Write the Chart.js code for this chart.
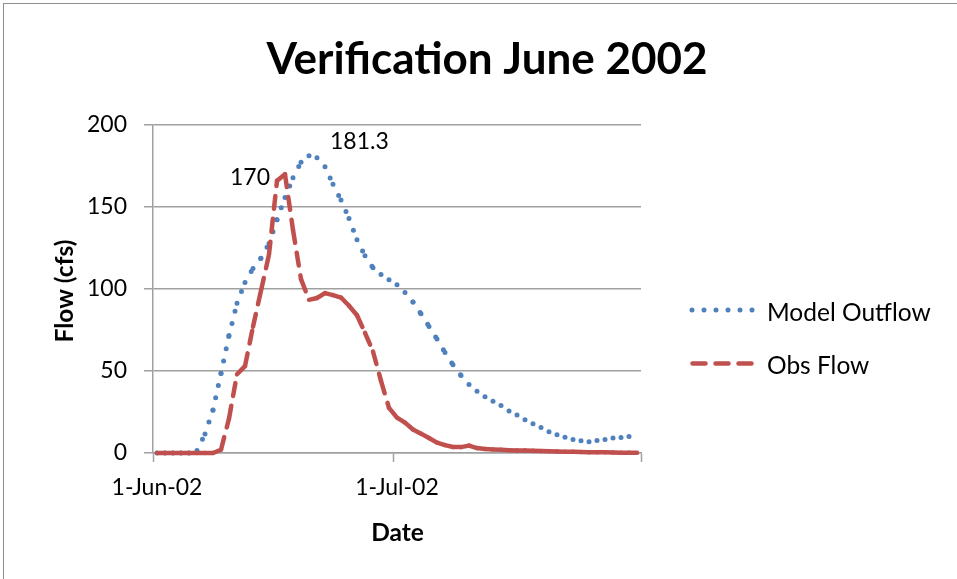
<!DOCTYPE html>
<html>
<head>
<meta charset="utf-8">
<script src="https://cdn.jsdelivr.net/npm/chart.js@4.4.1/dist/chart.umd.min.js"></script>
<style>
  html, body { margin: 0; padding: 0; background: #fff; }
  #wrap { position: relative; width: 957px; height: 579px; }
</style>
</head>
<body>
<div id="wrap"><canvas id="c" width="957" height="579"></canvas></div>
<script>
// ---- data ----
const chartTitle = 'Verification June 2002';
const xTitle = 'Date';
const yTitle = 'Flow (cfs)';
const seriesNames = ['Model Outflow', 'Obs Flow'];

const dates = [
  '1-Jun-02','2-Jun-02','3-Jun-02','4-Jun-02','5-Jun-02','6-Jun-02','7-Jun-02','8-Jun-02','9-Jun-02','10-Jun-02',
  '11-Jun-02','12-Jun-02','13-Jun-02','14-Jun-02','15-Jun-02','16-Jun-02','17-Jun-02','18-Jun-02','19-Jun-02','20-Jun-02',
  '21-Jun-02','22-Jun-02','23-Jun-02','24-Jun-02','25-Jun-02','26-Jun-02','27-Jun-02','28-Jun-02','29-Jun-02','30-Jun-02',
  '1-Jul-02','2-Jul-02','3-Jul-02','4-Jul-02','5-Jul-02','6-Jul-02','7-Jul-02','8-Jul-02','9-Jul-02','10-Jul-02',
  '11-Jul-02','12-Jul-02','13-Jul-02','14-Jul-02','15-Jul-02','16-Jul-02','17-Jul-02','18-Jul-02','19-Jul-02','20-Jul-02',
  '21-Jul-02','22-Jul-02','23-Jul-02','24-Jul-02','25-Jul-02','26-Jul-02','27-Jul-02','28-Jul-02','29-Jul-02','30-Jul-02',
  '31-Jul-02'
];

const modelOutflow = [
  0, 0, 0, 0, 0, 1.6, 11.6, 26.2, 48.6, 71.6,
  91.3, 104, 112.5, 118.8, 127.7, 142.3, 155.8, 167.9, 177.3, 181.3,
  180.1, 174.6, 163.8, 154.2, 143, 130, 120.2, 112.9, 108.8, 105.7,
  102.6, 97.9, 92, 84.9, 77.2, 69.5, 61.3, 53.8, 47.3, 41.7,
  37.6, 34.3, 31.5, 28.9, 25.6, 23.2, 20.3, 17.9, 15.5, 13,
  11.2, 9.6, 8.2, 7.4, 6.9, 7.6, 8.3, 9.2, 9.4, 10,
  10.3
];

const obsFlow = [
  0, 0, 0, 0, 0, 0, 0, 0, 2, 21,
  48, 53, 77, 99, 121, 166, 170, 136, 106, 93.4,
  94.5, 97.5, 96.3, 94.8, 89.8, 84, 73.3, 61.9, 44, 27.5,
  21.6, 18.5, 14.3, 11.8, 9.1, 6.3, 4.8, 3.7, 3.6, 4.5,
  3, 2.5, 2.2, 2, 1.7, 1.6, 1.5, 1.4, 1.2, 1,
  0.9, 0.8, 0.7, 0.6, 0.5, 0.4, 0.4, 0.3, 0.2, 0.2,
  0.1
];

const xTickIndices = [0, 30];          // labelled dates
const yTicks = [0, 50, 100, 150, 200];
// labelled points: [series index, data index]
const labelledPoints = [[0, 19], [1, 16]];

// ---- styles ----
const BLUE = '#4F81BD';
const RED = '#C0504D';
const GRID = '#a0a0a0';
const FONT = 'Lato';

Chart.defaults.font.family = FONT;
Chart.defaults.font.size = 23;
Chart.defaults.color = '#000';

// each point-to-point segment is stroked on its own so its dash pattern restarts (as in the original)
const segReset = w => ({ borderWidth: c => w + (c.p0DataIndex % 2) * 0.0001 });

const decorations = {
  id: 'decorations',
  beforeDraw(chart) {
    const ctx = chart.ctx;
    ctx.save();
    ctx.fillStyle = '#fff';
    ctx.fillRect(0, 0, chart.width, chart.height);
    ctx.strokeStyle = '#8e8e8e';
    ctx.lineWidth = 1;
    ctx.strokeRect(3.5, 3.5, chart.width + 20, chart.height + 20);
    ctx.restore();
  },
  afterDraw(chart) {
    const ctx = chart.ctx;
    const area = chart.chartArea;
    ctx.save();
    ctx.fillStyle = '#000';
    // title
    ctx.font = 'bold 44px ' + FONT;
    ctx.textAlign = 'center';
    ctx.textBaseline = 'alphabetic';
    ctx.fillText(chartTitle, 487, 73.5);
    // axis titles
    ctx.font = 'bold 24.5px ' + FONT;
    ctx.fillText(xTitle, (area.left + area.right) / 2 + 0.5, 541);
    ctx.save();
    ctx.translate(73, (area.top + area.bottom) / 2 + 2);
    ctx.rotate(-Math.PI / 2);
    ctx.fillText(yTitle, 0, 0);
    ctx.restore();

    // data labels
    ctx.font = '23px ' + FONT;
    const pm = chart.getDatasetMeta(0).data[labelledPoints[0][1]];
    ctx.textAlign = 'left';
    ctx.fillText(String(modelOutflow[labelledPoints[0][1]]), pm.x + 21, pm.y - 7);
    const po = chart.getDatasetMeta(1).data[labelledPoints[1][1]];
    ctx.textAlign = 'right';
    ctx.fillText(String(obsFlow[labelledPoints[1][1]]), po.x - 15, po.y + 11);

    // legend
    const lx0 = 692, lx1 = 752;
    ctx.lineCap = 'round';
    ctx.lineWidth = 5;
    ctx.strokeStyle = BLUE;
    ctx.setLineDash([0, 12]);
    ctx.beginPath(); ctx.moveTo(lx0, 310); ctx.lineTo(lx1 + 0.5, 310); ctx.stroke();
    ctx.lineWidth = 4.5;
    ctx.strokeStyle = RED;
    ctx.setLineDash([13, 10]);
    ctx.beginPath(); ctx.moveTo(lx0 + 0.5, 363.5); ctx.lineTo(lx1, 363.5); ctx.stroke();
    ctx.setLineDash([]);
    ctx.font = '24.5px ' + FONT;
    ctx.textAlign = 'left';
    ctx.fillText(seriesNames[0], 767, 320.5);
    ctx.fillText(seriesNames[1], 767, 374);
    ctx.restore();
  }
};

new Chart(document.getElementById('c'), {
  type: 'line',
  data: {
    labels: dates,
    datasets: [
      {
        label: seriesNames[0],
        data: modelOutflow,
        borderColor: BLUE,
        borderWidth: 5,
        borderDash: [0, 12.5],
        borderCapStyle: 'round',
        borderJoinStyle: 'round',
        pointRadius: 0,
        tension: 0,
        clip: false,
        order: 1,
        segment: segReset(5)
      },
      {
        label: seriesNames[1],
        data: obsFlow,
        borderColor: RED,
        borderWidth: 4.5,
        borderDash: [13, 10],
        borderCapStyle: 'round',
        borderJoinStyle: 'round',
        pointRadius: 0,
        tension: 0,
        clip: false,
        order: 0,
        segment: segReset(4.5)
      }
    ]
  },
  options: {
    responsive: false,
    animation: false,
    events: [],
    layout: { padding: { top: 125, right: 316, left: 0, bottom: 0 } },
    plugins: { legend: { display: false }, title: { display: false }, tooltip: { enabled: false } },
    scales: {
      x: {
        type: 'category',
        offset: true,
        afterFit: s => { s.height = 126; },
        grid: {
          offset: true,
          drawOnChartArea: false,
          drawTicks: true,
          tickLength: 9,
          tickWidth: 1.5,
          tickColor: c => (c.index === undefined || xTickIndices.includes(c.index)) ? GRID : 'rgba(0,0,0,0)'
        },
        border: { display: true, color: GRID, width: 1.5 },
        ticks: {
          autoSkip: false,
          maxRotation: 0,
          minRotation: 0,
          padding: 12,
          color: '#000',
          callback: (v, i) => xTickIndices.includes(i) ? dates[i] : ''
        }
      },
      y: {
        min: 0,
        max: 200,
        afterFit: s => { s.width = 153; },
        afterBuildTicks: s => { s.ticks = yTicks.map(v => ({ value: v })); },
        grid: { color: GRID, lineWidth: 1.5, tickLength: 9, drawTicks: true },
        border: { display: true, color: GRID, width: 1.5 },
        ticks: { padding: 17, color: '#000' }
      }
    }
  },
  plugins: [decorations]
});
</script>
</body>
</html>
